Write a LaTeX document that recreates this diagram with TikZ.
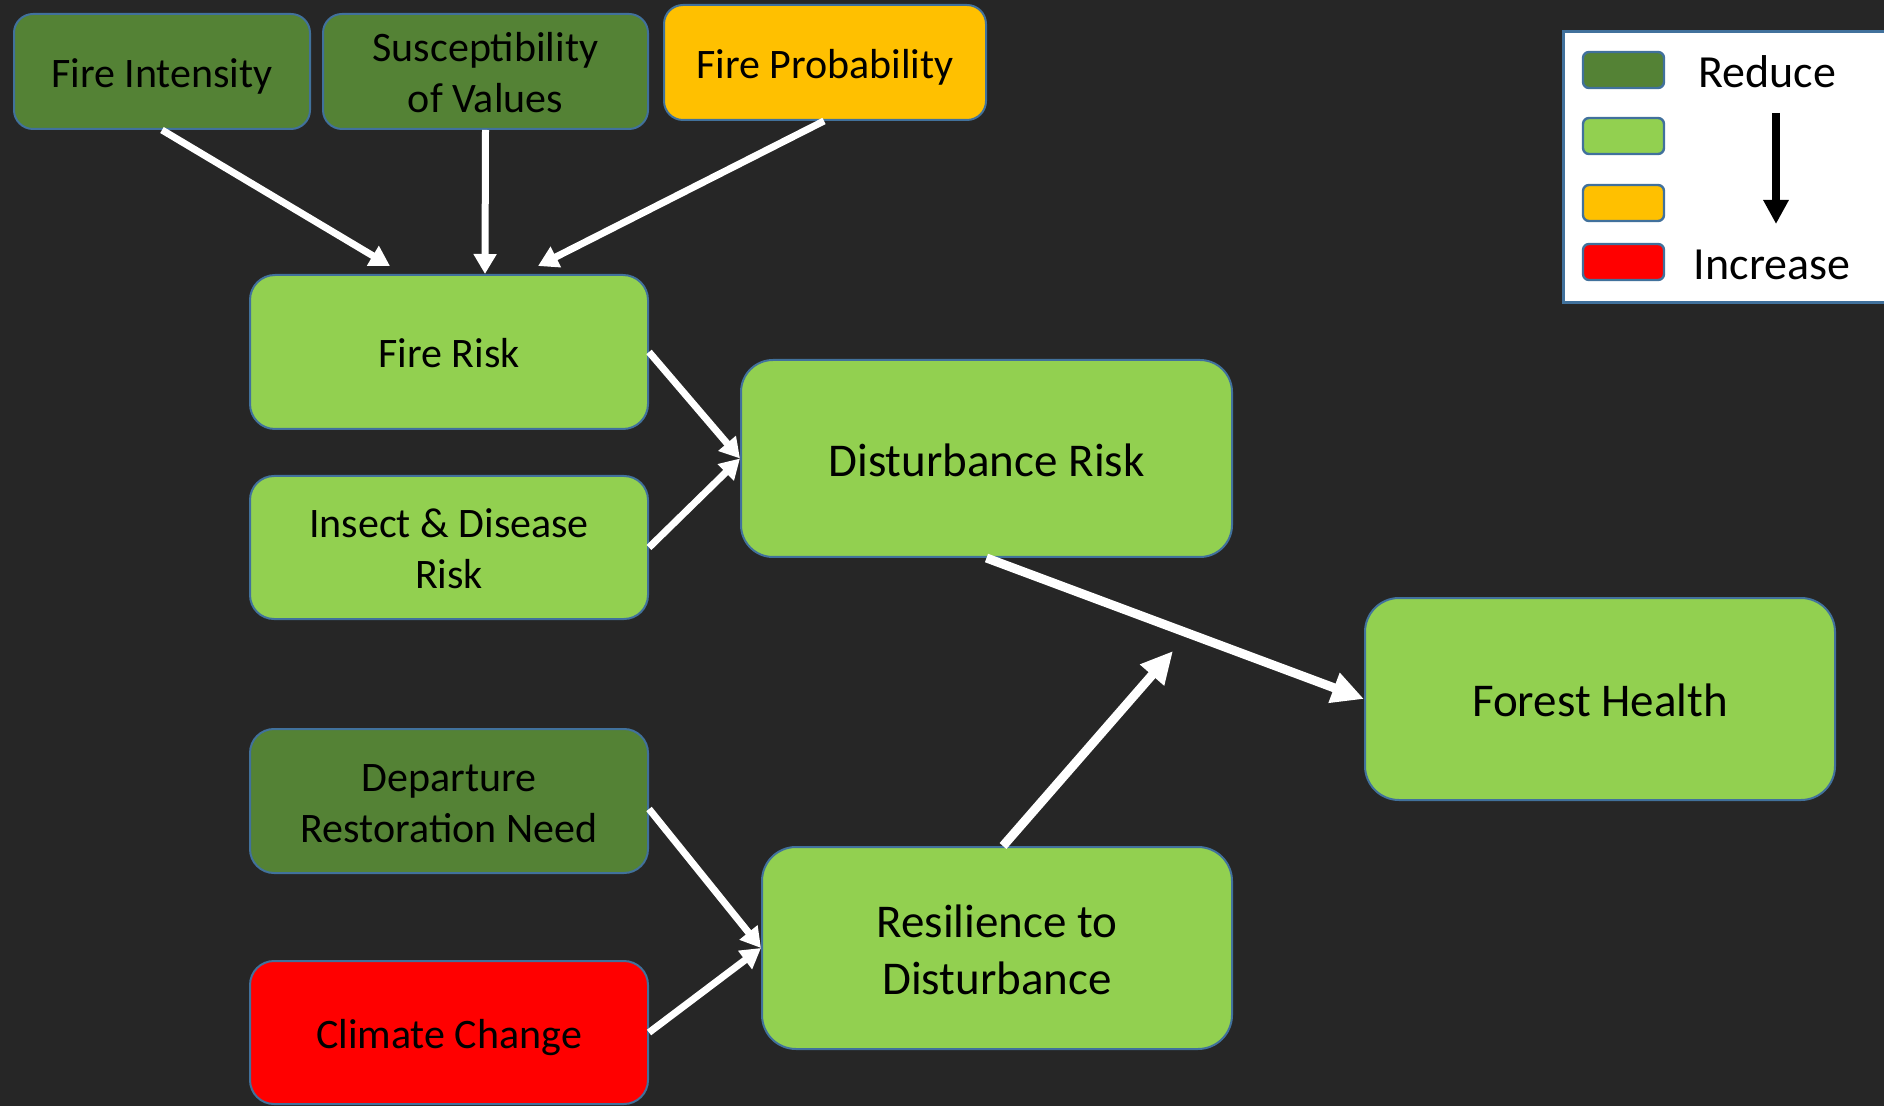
\documentclass[tikz,border=0pt]{standalone}
\usepackage{fontspec}
\setmainfont{Carlito}
\usetikzlibrary{arrows.meta}
\definecolor{bgc}{HTML}{262626}
\definecolor{bordc}{HTML}{41719C}
\definecolor{darkg}{HTML}{548235}
\definecolor{lightg}{HTML}{92D050}
\definecolor{oran}{HTML}{FFC000}
\definecolor{redc}{HTML}{FF0000}
\newcommand\ps{\rule[-0.196em]{0pt}{1.146em}}
\begin{document}
\begin{tikzpicture}[x=0.5pt,y=-0.5pt,
  box/.style={draw=bordc, line width=1pt, align=center, inner sep=0pt, text=black},
  smallf/.style={font=\fontsize{21}{25.5}\selectfont},
  bigf/.style={font=\fontsize{23.5}{28.5}\selectfont},
  thinarr/.style={draw=white, line width=3.5pt, -{Triangle[length=10pt,width=11pt]}},
  thickarr/.style={draw=white, line width=4.5pt, -{Triangle[length=16pt,width=15pt]}},
  swatch/.style={draw=bordc, line width=1.2pt, rounded corners=3pt, minimum width=40.5pt, minimum height=18pt, inner sep=0pt}
]
\fill[bgc] (0,0) rectangle (1884,1106);
\useasboundingbox (0,0) rectangle (1884,1106);

% top row
\node[box, smallf, fill=darkg, rounded corners=9.5pt, minimum width=148pt, minimum height=57.5pt] (fi) at (162,71.5) {\ps Fire Intensity};
\node[box, smallf, fill=darkg, rounded corners=9.5pt, minimum width=162.5pt, minimum height=57.5pt] (sv) at (485.5,71.5) {\ps Susceptibility\\\ps of Values};
\node[box, smallf, fill=oran, rounded corners=9.5pt, minimum width=161pt, minimum height=57.5pt] (fp) at (825,62.5) {\ps Fire Probability};

% middle
\node[box, smallf, fill=lightg, rounded corners=12.5pt, minimum width=199pt, minimum height=77pt] (fr) at (449,352) {\ps Fire Risk};
\node[box, smallf, fill=lightg, rounded corners=12pt, minimum width=199pt, minimum height=71.5pt] (id) at (449,547.5) {\ps Insect \& Disease\\\ps Risk};
\node[box, bigf, fill=lightg, rounded corners=16pt, minimum width=245.5pt, minimum height=98.5pt] (dr) at (986.5,458.5) {\ps Disturbance Risk};
\node[box, bigf, fill=lightg, rounded corners=17pt, minimum width=235pt, minimum height=101pt] (fh) at (1600,699) {\ps Forest Health};

% bottom
\node[box, smallf, fill=darkg, rounded corners=12pt, minimum width=199pt, minimum height=72pt] (dp) at (449,801) {\ps Departure\\\ps Restoration Need};
\node[box, smallf, fill=redc, rounded corners=12pt, minimum width=199pt, minimum height=71.5pt] (cc) at (449,1032.5) {\ps Climate Change};
\node[box, bigf, fill=lightg, rounded corners=17pt, minimum width=235pt, minimum height=101pt] (rd) at (997,948) {\ps Resilience to\\\ps Disturbance};

% connectors
\draw[thinarr] (fi.south) -- ([shift={(-59,-8)}]fr.north);
\draw[thinarr] (sv.south) -- ([shift={(36,0)}]fr.north);
\draw[thinarr] ([shift={(-1,0)}]fp.south) -- ([shift={(89,-8)}]fr.north);
\draw[thinarr] (fr.east) -- (dr.west);
\draw[thinarr] (id.east) -- (dr.west);
\draw[thickarr] (dr.south) -- (fh.west);
\coordinate (rdend) at (1173,651);
\draw[thickarr] ([shift={(6,0)}]rd.north) -- (rdend);
\draw[thinarr] ([shift={(0,8)}]dp.east) -- (rd.west);
\draw[thinarr] (cc.east) -- (rd.west);

% legend
\node[draw=bordc, fill=white, line width=1.5pt, minimum width=170pt, minimum height=135.5pt, inner sep=0pt] (legend) at (1733,167.5) {};
\node[swatch, fill=darkg] (s1) at (1623.5,70) {};
\node[swatch, fill=lightg] (s2) at (1623.5,136) {};
\node[swatch, fill=oran] (s3) at (1623.5,203) {};
\node[swatch, fill=redc] (s4) at (1623.5,262) {};
\node[font=\fontsize{23}{27}\selectfont, text=black, inner sep=0pt] (lred) at (1767,72) {Reduce};
\node[font=\fontsize{23}{27}\selectfont, text=black, inner sep=0pt] (linc) at (1772,265) {Increase};
\coordinate (la) at (1776,113);
\coordinate (lb) at (1776,224);
\draw[black, line width=4pt, -{Triangle[length=12pt,width=12pt]}] (la) -- (lb);
\end{tikzpicture}
\end{document}
